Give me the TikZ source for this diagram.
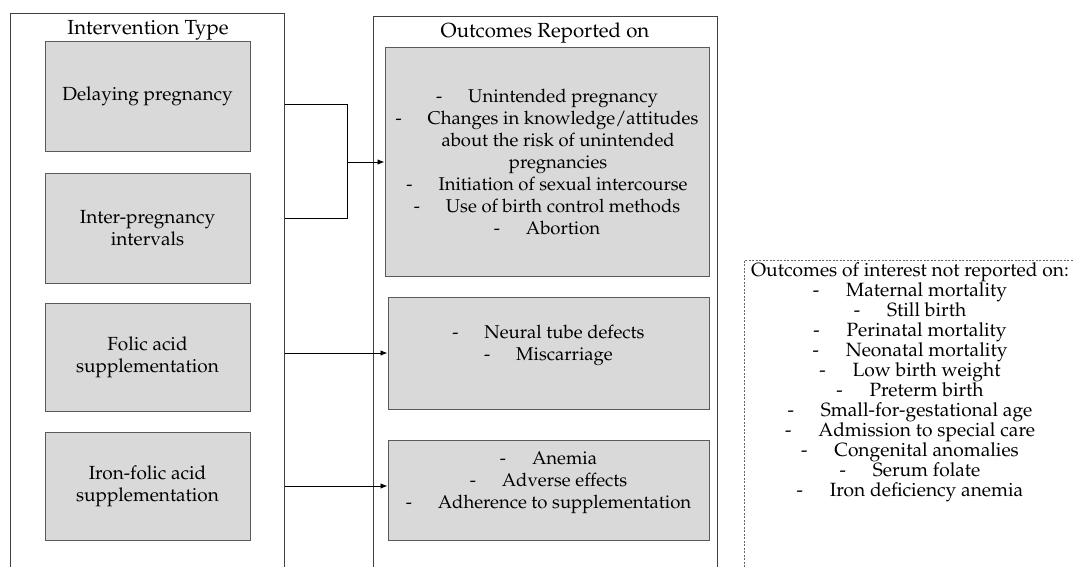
\documentclass[tikz,border=0pt]{standalone}
\usepackage[T1]{fontenc}
\renewcommand{\rmdefault}{ppl}
\usepackage{tikz}
\usetikzlibrary{arrows.meta,positioning}
\definecolor{boxgray}{HTML}{D9D9D9}
\definecolor{edgegray}{HTML}{5A5A5A}
\definecolor{framegray}{HTML}{404040}
\newcommand{\dashitem}[1]{-\hspace{1.4em}#1}

\begin{document}
\begin{tikzpicture}[x=1pt,y=-1pt,
    every node/.style={font=\fontsize{18.5}{22}\selectfont},
    frame/.style={draw=framegray,line width=1pt,anchor=north west},
    title/.style={font=\fontsize{20.4}{24}\selectfont},
    intbox/.style={draw=edgegray,fill=boxgray,line width=1pt,align=center,minimum width=205pt,font=\fontsize{19}{22}\selectfont},
    outbox/.style={draw=edgegray,fill=boxgray,line width=1pt,align=center},
    notbox/.style={draw=black!60,line width=0.9pt,dash pattern=on 2pt off 1.5pt,anchor=north west},
    link/.style={-{Latex[length=7pt,width=5.5pt]},line width=0.9pt}]
    \useasboundingbox (0,0) rectangle (1073,567);
    % frames, open at the bottom
    \node[frame,minimum width=274pt,minimum height=600pt] (intframe) at (10,13) {};
    \node[frame,minimum width=344pt,minimum height=600pt] (outframe) at (373,16) {};
    \node[notbox,minimum width=400pt,minimum height=400pt] (notrep) at (744,260) {};
    \node[title] (inttitle) at (148,30) {Intervention Type};
    \node[title] (outtitle) at (545,33) {Outcomes Reported on};
    % intervention types
    \node[intbox,minimum height=109pt] (delay) at (147.5,96.5) {Delaying pregnancy};
    \node[intbox,minimum height=110pt] (inter) at (147.5,228) {Inter-pregnancy\\intervals};
    \node[intbox,minimum height=108pt] (folic) at (147.5,357) {Folic acid\\supplementation};
    \node[intbox,minimum height=108pt] (iron) at (147.5,486) {Iron-folic acid\\supplementation};
    % outcomes reported
    \node[outbox,minimum width=324pt,minimum height=228pt] (repA) at (547,162) {\dashitem{Unintended pregnancy}\\\dashitem{Changes in knowledge/attitudes}\\\hspace*{1.2em}about the risk of unintended\\\hspace*{1.2em}pregnancies\\\dashitem{Initiation of sexual intercourse}\\\dashitem{Use of birth control methods}\\\dashitem{Abortion}};
    \node[outbox,minimum width=321pt,minimum height=112pt,text depth=20pt] (repB) at (548.5,353) {\dashitem{Neural tube defects}\\\dashitem{Miscarriage}};
    \node[outbox,minimum width=321pt,minimum height=100pt,text depth=20pt] (repC) at (548.5,490) {\dashitem{Anemia}\\\dashitem{Adverse effects}\\\dashitem{Adherence to supplementation}};
    % outcomes not reported
    \node[align=center,anchor=north,font=\fontsize{19.2}{20}\selectfont] (notreptxt) at (910,259) {Outcomes of interest not reported on:\\\dashitem{Maternal mortality}\\\dashitem{Still birth}\\\dashitem{Perinatal mortality}\\\dashitem{Neonatal mortality}\\\dashitem{Low birth weight}\\\dashitem{Preterm birth}\\\dashitem{Small-for-gestational age}\\\dashitem{Admission to special care}\\\dashitem{Congenital anomalies}\\\dashitem{Serum folate}\\\dashitem{Iron deficiency anemia}};
    % connectors
    \coordinate (jn) at (347,162);
    \draw[line width=0.9pt] ([yshift=-7.5pt]delay.east -| intframe.east) -| (jn);
    \draw[line width=0.9pt] ([yshift=10pt]inter.east -| intframe.east) -| (jn);
    \draw[link] (jn) -- (jn -| repA.west);
    \draw[link] (repB.west -| intframe.east) -- (repB.west);
    \draw[link] (iron.east -| intframe.east) -- (iron.east -| repC.west);
\end{tikzpicture}
\end{document}
